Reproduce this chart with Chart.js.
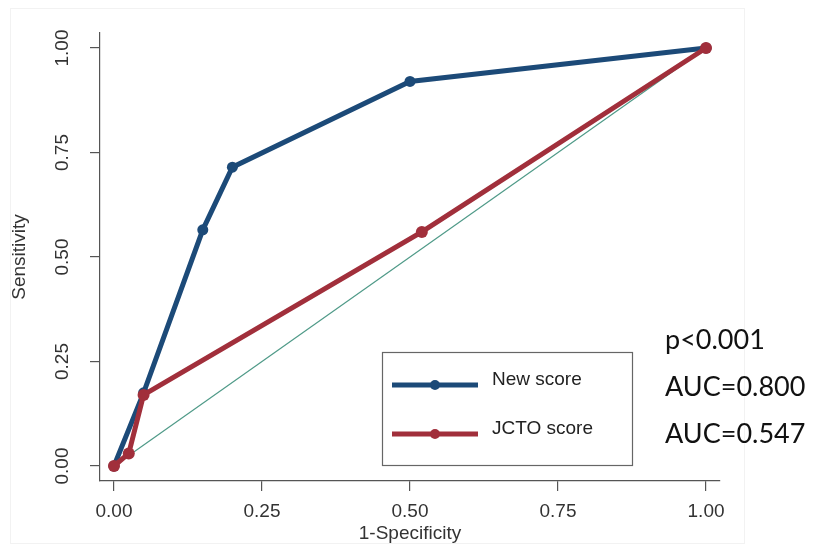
<!DOCTYPE html>
<html>
<head>
<meta charset="utf-8">
<script src="https://cdn.jsdelivr.net/npm/chart.js@4.4.1/dist/chart.umd.min.js"></script>
<style>
    html, body { margin: 0; padding: 0; background: #fff; }
    #caja { position: relative; width: 821px; height: 549px; }
    #marco { position: absolute; left: 10px; top: 8px; width: 733px; height: 534px; border: 1px solid #f2f2f2; }
    #grafico { position: absolute; left: 0; top: 0; z-index: 1; }
    #notas { position: absolute; z-index: 2; left: 665px; top: 315px; font-family: Lato, "Open Sans", sans-serif; font-size: 27px; color: #111; line-height: 47px; }
</style>
</head>
<body>
<div id="caja">
    <div id="marco"></div>
    <canvas id="grafico" width="821" height="549"></canvas>
    <div id="notas">p&lt;0.001<br>AUC=0.800<br>AUC=0.547</div>
</div>
<script>
const marcasEje = [0, 0.25, 0.5, 0.75, 1];
const etiquetasEje = ['0.00', '0.25', '0.50', '0.75', '1.00'];

const nuevoX = [0, 0.05, 0.15, 0.2, 0.5, 1];
const nuevoY = [0, 0.175, 0.565, 0.715, 0.92, 1];

const jctoX = [0, 0.025, 0.05, 0.52, 1];
const jctoY = [0, 0.03, 0.17, 0.56, 1];

const diagonal = [0, 1];

const azul = '#1c4a78';
const rojo = '#a12f3b';
const fuente = '"Liberation Sans", Arial, sans-serif';

const aPuntos = (xs, ys) => xs.map((x, i) => ({ x: x, y: ys[i] }));

// etiquetas del eje y giradas, titulos y leyenda dentro del grafico
const textos = {
    id: 'textos',
    afterDraw(chart) {
        const ctx = chart.ctx;
        const ejeY = chart.scales.y;
        const ejeX = chart.scales.x;
        ctx.save();
        ctx.fillStyle = '#333';
        ctx.font = '19px ' + fuente;
        ctx.textAlign = 'center';
        ctx.textBaseline = 'middle';
        marcasEje.forEach((v, i) => {
            ctx.save();
            ctx.translate(63, ejeY.getPixelForValue(v));
            ctx.rotate(-Math.PI / 2);
            ctx.fillText(etiquetasEje[i], 0, 0);
            ctx.restore();
        });
        ctx.save();
        ctx.translate(20, ejeY.getPixelForValue(0.5));
        ctx.rotate(-Math.PI / 2);
        ctx.fillText('Sensitivity', 0, 0);
        ctx.restore();
        ctx.fillText('1-Specificity', ejeX.getPixelForValue(0.5), 534);

        // leyenda
        ctx.strokeStyle = '#666';
        ctx.lineWidth = 1.2;
        ctx.fillStyle = '#fff';
        ctx.fillRect(382, 352, 250, 113);
        ctx.strokeRect(382.5, 352.5, 250, 113);
        const items = [
            { texto: 'New score', color: azul, y: 385 },
            { texto: 'JCTO score', color: rojo, y: 434 }
        ];
        items.forEach(it => {
            ctx.strokeStyle = it.color;
            ctx.lineWidth = 5;
            ctx.beginPath();
            ctx.moveTo(392, it.y);
            ctx.lineTo(478, it.y);
            ctx.stroke();
            ctx.fillStyle = it.color;
            ctx.beginPath();
            ctx.arc(435, it.y, 5, 0, Math.PI * 2);
            ctx.fill();
            ctx.fillStyle = '#222';
            ctx.font = '19px ' + fuente;
            ctx.textAlign = 'left';
            ctx.fillText(it.texto, 492, it.y - 5);
        });
        ctx.restore();
    }
};

const ejeComun = {
    type: 'linear',
    afterBuildTicks: (eje) => { eje.ticks = marcasEje.map(v => ({ value: v })); },
    border: { display: true, color: '#555', width: 1.2 },
    grid: { drawOnChartArea: false, drawTicks: true, tickLength: 10, color: '#555', lineWidth: 1.2 }
};

new Chart(document.getElementById('grafico'), {
    type: 'scatter',
    data: {
        datasets: [
            {
                label: 'JCTO score',
                data: aPuntos(jctoX, jctoY),
                showLine: true,
                borderColor: rojo,
                backgroundColor: rojo,
                borderWidth: 5,
                pointBorderWidth: 0,
                pointRadius: 6,
                pointHoverRadius: 6
            },
            {
                label: 'New score',
                data: aPuntos(nuevoX, nuevoY),
                showLine: true,
                borderColor: azul,
                backgroundColor: azul,
                borderWidth: 5,
                pointBorderWidth: 0,
                pointRadius: 5.5,
                pointHoverRadius: 5.5
            },
            {
                label: 'Referencia',
                data: aPuntos(diagonal, diagonal),
                showLine: true,
                borderColor: '#4f9a88',
                borderWidth: 1.2,
                pointRadius: 0
            }
        ]
    },
    options: {
        responsive: false,
        animation: false,
        layout: { padding: { left: 0, top: 33, right: 101, bottom: 0 } },
        plugins: {
            legend: { display: false },
            tooltip: { enabled: false }
        },
        scales: {
            x: {
                ...ejeComun,
                min: -0.0236,
                max: 1.0236,
                afterFit: (eje) => { eje.height = 68; },
                ticks: {
                    color: '#333',
                    font: { size: 19, family: fuente },
                    padding: 9,
                    maxRotation: 0,
                    callback: (v) => etiquetasEje[marcasEje.indexOf(v)]
                }
            },
            y: {
                ...ejeComun,
                min: -0.0359,
                max: 1.0359,
                afterFit: (eje) => { eje.width = 100; },
                ticks: { display: false }
            }
        }
    },
    plugins: [textos]
});
</script>
</body>
</html>
